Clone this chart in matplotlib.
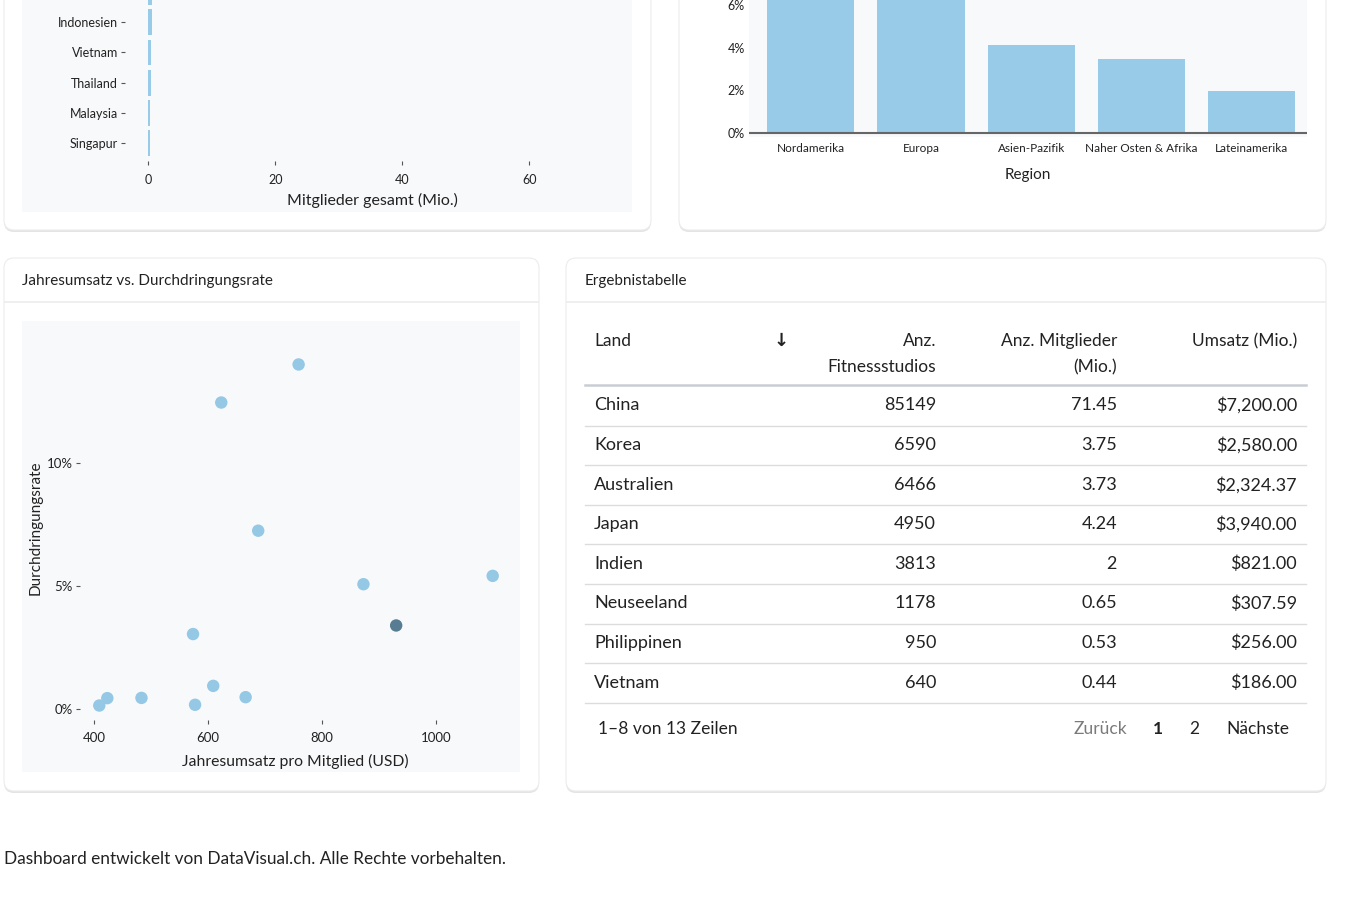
import matplotlib.pyplot as plt
from matplotlib.patches import FancyBboxPatch, Rectangle
from matplotlib.ticker import FuncFormatter

plt.rcParams['font.family'] = ['Lato', 'DejaVu Sans']

W, H = 1350, 900

# --- data ---
# top-left: members per country (only the lower rows are visible)
bar_countries = ['Philippinen', 'Indonesien', 'Vietnam', 'Thailand', 'Malaysia', 'Singapur']
bar_members = [0.53, 0.50, 0.44, 0.36, 0.30, 0.25]

# top-right: penetration rate per region (%)
regions = ['Nordamerika', 'Europa', 'Asien-Pazifik', 'Naher Osten & Afrika', 'Lateinamerika']
region_rate = [9.0, 8.0, 4.13, 3.47, 1.97]

# scatter: revenue per member (USD) vs penetration rate (%)
rev_per_member = [758.8, 622.9, 687.8, 872.7, 1099.8, 930.2, 573.3, 608.8, 665.7, 482.7, 422.7, 408.6, 576.9]
penetration = [14.03, 12.48, 7.26, 5.08, 5.42, 3.40, 3.05, 0.94, 0.48, 0.45, 0.44, 0.14, 0.17]
highlight_idx = 5

# table
table_cols = ['Land', 'Anz.\nFitnessstudios', 'Anz. Mitglieder\n(Mio.)', 'Umsatz (Mio.)']
table_land = ['China', 'Korea', 'Australien', 'Japan', 'Indien', 'Neuseeland', 'Philippinen', 'Vietnam']
table_studios = [85149, 6590, 6466, 4950, 3813, 1178, 950, 640]
table_members = ['71.45', '3.75', '3.73', '4.24', '2', '0.65', '0.53', '0.44']
table_revenue = [7200.00, 2580.00, 2324.37, 3940.00, 821.00, 307.59, 256.00, 186.00]

BAR_C = '#97cbe8'
DOT_C = '#94c8e5'
DOT_HL = '#587c92'
LIGHT = '#f8f9fb'
TXT = '#222222'


def box(x0, y0, x1, y1):
    return [x0 / W, 1 - y1 / H, (x1 - x0) / W, (y1 - y0) / H]


fig = plt.figure(figsize=(13.5, 9), dpi=100)
fig.patch.set_facecolor('white')

bg = fig.add_axes([0, 0, 1, 1])
bg.set_xlim(0, W)
bg.set_ylim(H, 0)
bg.axis('off')


def card(x0, y0, x1, y1):
    sh = FancyBboxPatch((x0, y0 + 2), x1 - x0, y1 - y0, boxstyle='round,pad=0,rounding_size=10',
                        fc='#e4e4e4', ec='none', zorder=0)
    c = FancyBboxPatch((x0, y0), x1 - x0, y1 - y0, boxstyle='round,pad=0,rounding_size=10',
                       fc='white', ec='#ececec', lw=0.8, zorder=0.5)
    bg.add_patch(sh)
    bg.add_patch(c)


card(4, -40, 651, 230)
card(679, -40, 1326, 230)
card(4, 258, 539, 791)
card(566, 258, 1326, 791)

# header separators of the bottom cards
bg.plot([5, 538], [302, 302], color='#ececec', lw=1.2, zorder=1)
bg.plot([567, 1325], [302, 302], color='#ececec', lw=1.2, zorder=1)

# light backgrounds of the left charts
bg.add_patch(Rectangle((22, -10), 610, 222, fc=LIGHT, ec='none', zorder=1))
bg.add_patch(Rectangle((22, 321), 498, 451, fc=LIGHT, ec='none', zorder=1))

bg.text(22, 281, 'Jahresumsatz vs. Durchdringungsrate', fontsize=11, color=TXT, va='center', ha='left')
bg.text(585, 281, 'Ergebnistabelle', fontsize=11, color=TXT, va='center', ha='left')

# --- top-left: horizontal bars ---
ax1 = fig.add_axes(box(125, -31, 620, 161))
ax1.set_facecolor('none')
ypos = list(range(len(bar_countries)))
ax1.barh(ypos, bar_members, height=0.85, color=BAR_C)
ax1.set_yticks(ypos)
ax1.set_yticklabels(bar_countries)
ax1.get_yticklabels()[0].set_visible(False)  # row sits above the visible area
ax1.set_ylim(5.59, -0.76)
ax1.set_xlim(-3.7, 74.3)
ax1.set_xticks([0, 20, 40, 60])
for s in ax1.spines.values():
    s.set_visible(False)
ax1.tick_params(axis='both', length=3, width=0.8, color='#555555', labelsize=9, labelcolor=TXT, pad=2)
ax1.tick_params(axis='x', pad=6)
ax1.set_xlabel('Mitglieder gesamt (Mio.)', fontsize=11.5, color=TXT, labelpad=5)

# --- top-right: vertical bars ---
ax2 = fig.add_axes(box(749, -30, 1307, 137))
ax2.set_facecolor(LIGHT)
xpos = list(range(len(regions)))
ax2.bar(xpos, region_rate, width=0.79, color=BAR_C, zorder=2)
ax2.axhline(0, color='#666666', lw=1.5, zorder=3)
ax2.set_xticks(xpos)
ax2.set_xticklabels(regions)
ax2.set_xlim(-0.56, 4.5)
ax2.set_ylim(-0.21, 7.65)
ax2.set_yticks([0, 2, 4, 6])
ax2.yaxis.set_major_formatter(FuncFormatter(lambda v, p: f'{v:.0f}%'))
for s in ax2.spines.values():
    s.set_visible(False)
ax2.tick_params(axis='both', length=0, labelsize=8.5, labelcolor=TXT)
ax2.tick_params(axis='x', pad=4.5)
ax2.tick_params(axis='y', labelsize=9, pad=3)
ax2.set_xlabel('Region', fontsize=11, color=TXT, labelpad=10)

# --- bottom-left: scatter ---
ax3 = fig.add_axes(box(80, 335, 510, 720))
ax3.set_facecolor('none')
cols = [DOT_HL if i == highlight_idx else DOT_C for i in range(len(rev_per_member))]
ax3.scatter(rev_per_member, penetration, s=80, c=cols, edgecolors='none', zorder=3)
ax3.set_xlim(374.7, 1130.2)
ax3.set_ylim(-0.45, 15.23)
ax3.set_xticks([400, 600, 800, 1000])
ax3.set_yticks([0, 5, 10])
ax3.yaxis.set_major_formatter(FuncFormatter(lambda v, p: f'{v:.0f}%'))
for s in ax3.spines.values():
    s.set_visible(False)
ax3.tick_params(axis='both', length=3, width=0.8, color='#555555', labelsize=9.5, labelcolor=TXT, pad=2)
ax3.tick_params(axis='x', pad=6)
ax3.set_xlabel('Jahresumsatz pro Mitglied (USD)', fontsize=11.3, color=TXT, labelpad=7)
ax3.set_ylabel('Durchdringungsrate', fontsize=11, color=TXT, labelpad=3)

# --- bottom-right: table ---
col_right = [None, 936, 1117, 1297]
bg.text(594, 341, table_cols[0], fontsize=12.5, color=TXT, va='center', ha='left', zorder=2)
bg.text(781, 341, '\u2193', fontsize=13, color=TXT, va='center', ha='center', fontweight='bold',
        family=['DejaVu Sans'], zorder=2)
for j in range(1, 4):
    lines = table_cols[j].split('\n')
    for k, ln in enumerate(lines):
        bg.text(col_right[j], 341 + 26 * k, ln, fontsize=12.5, color=TXT, va='center', ha='right', zorder=2)
bg.plot([585, 1306], [385, 385], color='#c9cdd2', lw=1.8, zorder=2)

row_h = 39.6
for i, land in enumerate(table_land):
    yc = 405.5 + i * row_h
    bg.text(594, yc, land, fontsize=13, color=TXT, va='center', ha='left', zorder=2)
    bg.text(col_right[1], yc, str(table_studios[i]), fontsize=13, color=TXT, va='center', ha='right', zorder=2)
    bg.text(col_right[2], yc, table_members[i], fontsize=13, color=TXT, va='center', ha='right', zorder=2)
    bg.text(col_right[3], yc, f'${table_revenue[i]:,.2f}', fontsize=13, color=TXT, va='center', ha='right', zorder=2)
    bg.plot([585, 1306], [yc + 20, yc + 20], color='#dcdcdc', lw=1.0, zorder=2)

bg.text(598, 729.5, '1\u20138 von 13 Zeilen', fontsize=12.5, color=TXT, va='center', ha='left', zorder=2)
bg.text(1100, 729.5, 'Zur\u00fcck', fontsize=12.5, color='#7a7a7a', va='center', ha='center', zorder=2)
bg.text(1158, 729.5, '1', fontsize=12.5, color=TXT, va='center', ha='center', fontweight='bold', zorder=2)
bg.text(1194, 729.5, '2', fontsize=12.5, color=TXT, va='center', ha='center', zorder=2)
bg.text(1258, 729.5, 'N\u00e4chste', fontsize=12.5, color=TXT, va='center', ha='center', zorder=2)

bg.text(4, 858.5, 'Dashboard entwickelt von DataVisual.ch. Alle Rechte vorbehalten.', fontsize=12.4,
        color=TXT, va='center', ha='left')

fig.savefig('out.png', dpi=100, facecolor='white')
